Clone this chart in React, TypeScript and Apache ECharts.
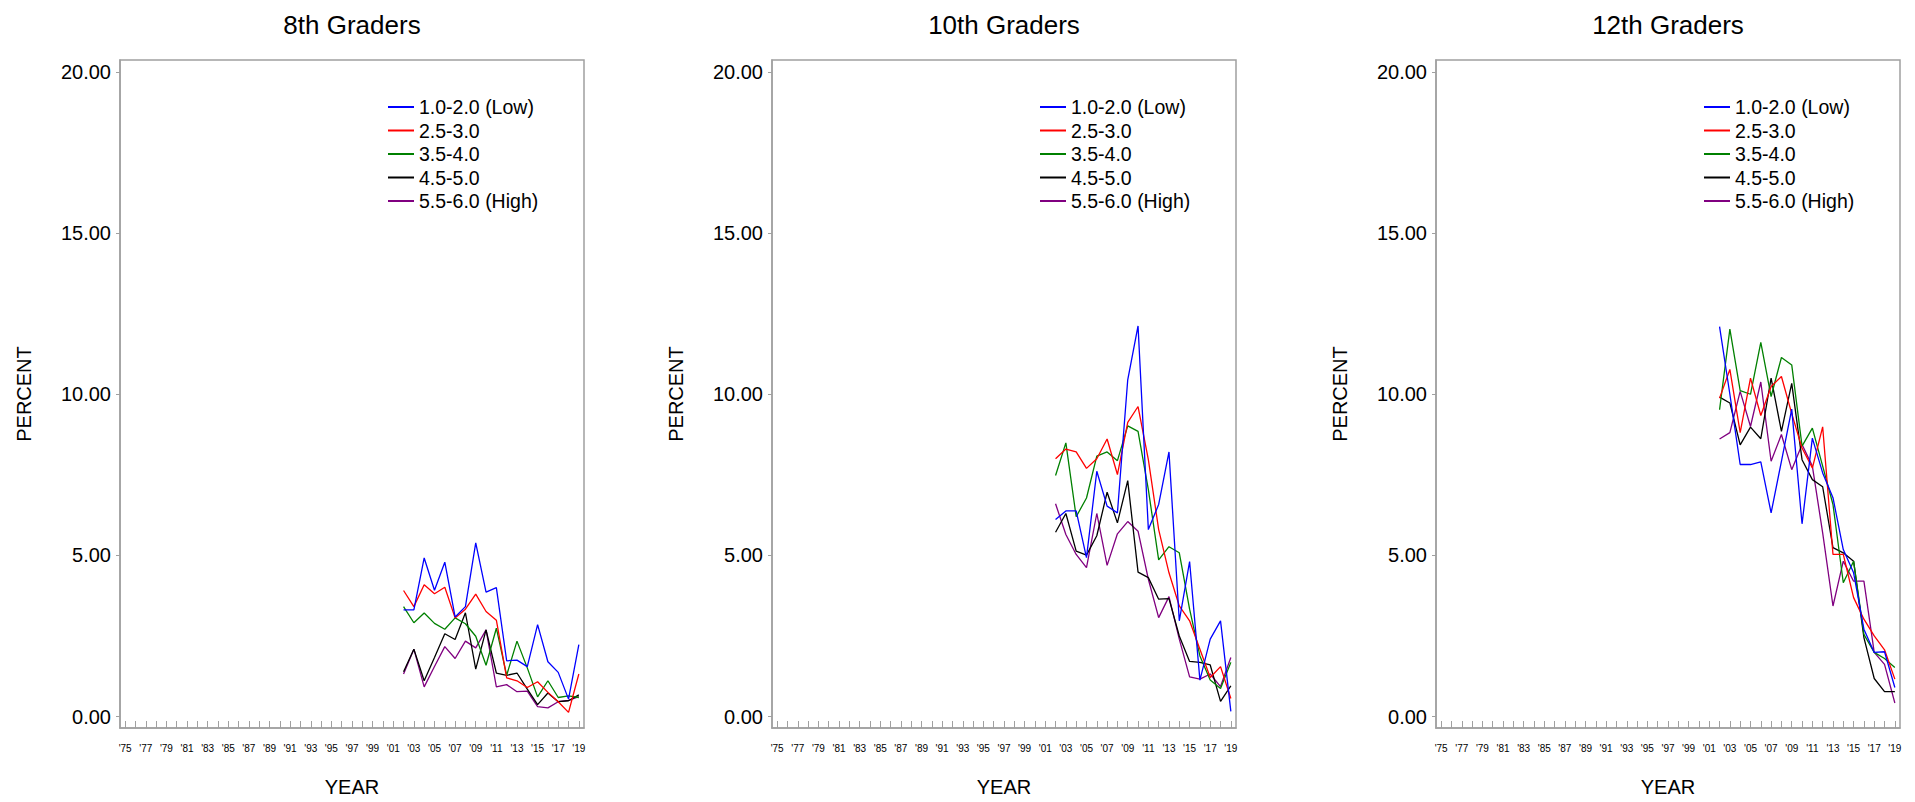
import React, { useEffect, useRef } from "react";
import * as echarts from "echarts";

// ---------------- data ----------------
const years = [2002, 2003, 2004, 2005, 2006, 2007, 2008, 2009, 2010, 2011, 2012, 2013, 2014, 2015, 2016, 2017, 2018, 2019];

const seriesNames = ["1.0-2.0 (Low)", "2.5-3.0", "3.5-4.0", "4.5-5.0", "5.5-6.0 (High)"];
const seriesColors = ["#0000ff", "#ff0000", "#008000", "#000000", "#800080"];
const panelTitles = ["8th Graders", "10th Graders", "12th Graders"];

// 8th graders
const g8Low = [3.31, 3.31, 4.92, 3.92, 4.79, 3.09, 3.41, 5.39, 3.86, 4.0, 1.73, 1.75, 1.55, 2.85, 1.7, 1.37, 0.54, 2.23];
const g8B = [3.91, 3.41, 4.09, 3.81, 4.01, 3.06, 3.33, 3.8, 3.26, 2.99, 1.2, 1.11, 0.9, 1.08, 0.75, 0.46, 0.13, 1.32];
const g8C = [3.41, 2.91, 3.21, 2.89, 2.71, 3.06, 2.88, 2.49, 1.59, 2.74, 1.28, 2.34, 1.51, 0.61, 1.11, 0.59, 0.64, 0.59];
const g8D = [1.39, 2.09, 1.11, 1.83, 2.57, 2.39, 3.22, 1.47, 2.69, 1.35, 1.28, 1.35, 0.85, 0.37, 0.73, 0.46, 0.49, 0.67];
const g8High = [1.32, 2.09, 0.92, 1.55, 2.17, 1.8, 2.34, 2.13, 2.69, 0.92, 0.99, 0.77, 0.79, 0.31, 0.27, 0.46, 0.5, 0.62];

// 10th graders
const g10Low = [6.11, 6.38, 6.38, 4.93, 7.61, 6.53, 6.32, 10.45, 12.12, 5.8, 6.58, 8.21, 2.97, 4.81, 1.13, 2.4, 2.97, 0.16];
const g10B = [8.0, 8.3, 8.21, 7.7, 8.0, 8.61, 7.51, 9.13, 9.62, 7.97, 5.8, 4.46, 3.43, 2.97, 2.09, 1.21, 1.55, 0.56];
const g10C = [7.48, 8.49, 6.2, 6.78, 8.08, 8.21, 7.94, 9.02, 8.85, 7.04, 4.86, 5.27, 5.08, 3.33, 1.88, 1.13, 0.87, 1.68];
const g10D = [5.72, 6.3, 5.13, 5.01, 5.61, 6.96, 6.01, 7.32, 4.48, 4.31, 3.64, 3.66, 2.5, 1.71, 1.68, 1.6, 0.47, 0.95];
const g10High = [6.6, 5.65, 5.03, 4.62, 6.3, 4.69, 5.67, 6.05, 5.75, 4.26, 3.07, 3.72, 2.4, 1.23, 1.16, 1.32, 0.93, 1.83];

// 12th graders
const g12Low = [12.1, 10.0, 7.82, 7.82, 7.9, 6.32, 7.92, 9.54, 5.98, 8.64, 7.56, 6.79, 5.18, 4.46, 2.71, 1.99, 2.01, 0.9];
const g12B = [9.88, 10.77, 8.81, 10.5, 9.34, 10.24, 10.55, 9.4, 8.33, 7.71, 8.99, 5.03, 5.03, 3.69, 3.02, 2.5, 2.07, 1.16];
const g12C = [9.52, 12.02, 10.11, 10.0, 11.61, 9.93, 11.14, 10.91, 8.39, 8.95, 7.77, 6.58, 4.15, 4.82, 2.55, 1.99, 1.8, 1.52];
const g12D = [9.91, 9.73, 8.43, 8.98, 8.62, 10.5, 8.85, 10.34, 7.97, 7.35, 7.13, 5.24, 5.08, 4.82, 2.45, 1.18, 0.77, 0.77];
const g12High = [8.61, 8.81, 10.09, 9.0, 10.38, 7.92, 8.75, 7.66, 8.44, 7.77, 5.7, 3.43, 4.82, 4.2, 4.2, 1.99, 1.62, 0.42];

const panelData = [
  [g8Low, g8B, g8C, g8D, g8High],
  [g10Low, g10B, g10C, g10D, g10High],
  [g12Low, g12B, g12C, g12D, g12High],
];

const yTickValues = [0, 5, 10, 15, 20];
const xTickYears = [1975, 1976, 1977, 1978, 1979, 1980, 1981, 1982, 1983, 1984, 1985, 1986, 1987, 1988, 1989, 1990, 1991, 1992, 1993, 1994, 1995, 1996, 1997, 1998, 1999, 2000, 2001, 2002, 2003, 2004, 2005, 2006, 2007, 2008, 2009, 2010, 2011, 2012, 2013, 2014, 2015, 2016, 2017, 2018, 2019];
const xLabelYears = [1975, 1977, 1979, 1981, 1983, 1985, 1987, 1989, 1991, 1993, 1995, 1997, 1999, 2001, 2003, 2005, 2007, 2009, 2011, 2013, 2015, 2017, 2019];

// ---------------- layout ----------------
const FONT = "'Liberation Sans', Arial, Helvetica, sans-serif";
const panelLefts = [120, 772, 1436];
const boxTop = 60;
const boxW = 464;
const boxH = 669;
const gray = "#a0a0a0";

export default function App() {
  const ref = useRef<HTMLDivElement>(null);

  useEffect(() => {
    if (!ref.current) return;
    const chart = echarts.init(ref.current, undefined, { renderer: "svg" });

    const grid: any[] = [];
    const xAxis: any[] = [];
    const yAxis: any[] = [];
    const series: any[] = [];
    const legend: any[] = [];
    const graphic: any[] = [];

    panelLefts.forEach((left, p) => {
      grid.push({
        left,
        top: boxTop,
        width: boxW,
        height: boxH,
        show: true,
        borderColor: gray,
        borderWidth: 1.5,
        backgroundColor: "transparent",
      });
      xAxis.push({
        type: "value",
        gridIndex: p,
        min: 1974.5,
        max: 2019.5,
        axisLine: { show: true, onZero: false, lineStyle: { color: gray, width: 1.5 } },
        axisTick: {
          show: true,
          inside: true,
          length: 7,
          customValues: xTickYears,
          lineStyle: { color: gray, width: 1 },
        },
        axisLabel: {
          customValues: xLabelYears,
          formatter: (v: number) => "'" + String(Math.round(v)).slice(2),
          fontSize: 10,
          fontFamily: FONT,
          color: "#000",
          margin: 15,
        },
        splitLine: { show: false },
        name: "YEAR",
        nameLocation: "middle",
        nameGap: 49,
        nameTextStyle: { fontSize: 20, fontFamily: FONT, color: "#000" },
      });
      yAxis.push({
        type: "value",
        gridIndex: p,
        min: -0.356,
        max: 20.372,
        axisLine: { show: true, onZero: false, lineStyle: { color: gray, width: 1.5 } },
        axisTick: {
          show: true,
          length: 4,
          customValues: yTickValues,
          lineStyle: { color: gray, width: 1 },
        },
        axisLabel: {
          customValues: yTickValues,
          formatter: (v: number) => v.toFixed(2),
          fontSize: 20,
          fontFamily: FONT,
          color: "#000",
          margin: 9,
        },
        splitLine: { show: false },
        name: "PERCENT",
        nameLocation: "middle",
        nameGap: 86,
        nameTextStyle: { fontSize: 20, fontFamily: FONT, color: "#000" },
      });
      panelData[p].forEach((vals, s) => {
        series.push({
          type: "line",
          name: seriesNames[s],
          xAxisIndex: p,
          yAxisIndex: p,
          data: years.map((y, i) => [y, vals[i]]),
          showSymbol: false,
          symbol: "none",
          lineStyle: { color: seriesColors[s], width: 1.3 },
          itemStyle: { color: seriesColors[s] },
          z: 10 - s,
        });
      });
      legend.push({
        data: seriesNames,
        orient: "vertical",
        left: left + 268,
        top: 97,
        padding: 0,
        itemGap: 3.5,
        itemWidth: 26,
        itemHeight: 2,
        icon: "rect",
        textStyle: { fontSize: 19.5, fontFamily: FONT, color: "#000", lineHeight: 18 },
      });
      graphic.push({
        type: "text",
        x: left + boxW / 2,
        y: 25,
        style: {
          text: panelTitles[p],
          textAlign: "center",
          textVerticalAlign: "middle",
          fontSize: 26,
          fontFamily: FONT,
          fill: "#000",
        },
      });
    });

    chart.setOption({
      animation: false,
      backgroundColor: "#fff",
      grid,
      xAxis,
      yAxis,
      series,
      legend,
      graphic,
    });

    return () => chart.dispose();
  }, []);

  return (
    <div
      ref={ref}
      style={{ position: "fixed", left: 0, top: 0, width: 1915, height: 802, background: "#fff" }}
    />
  );
}
